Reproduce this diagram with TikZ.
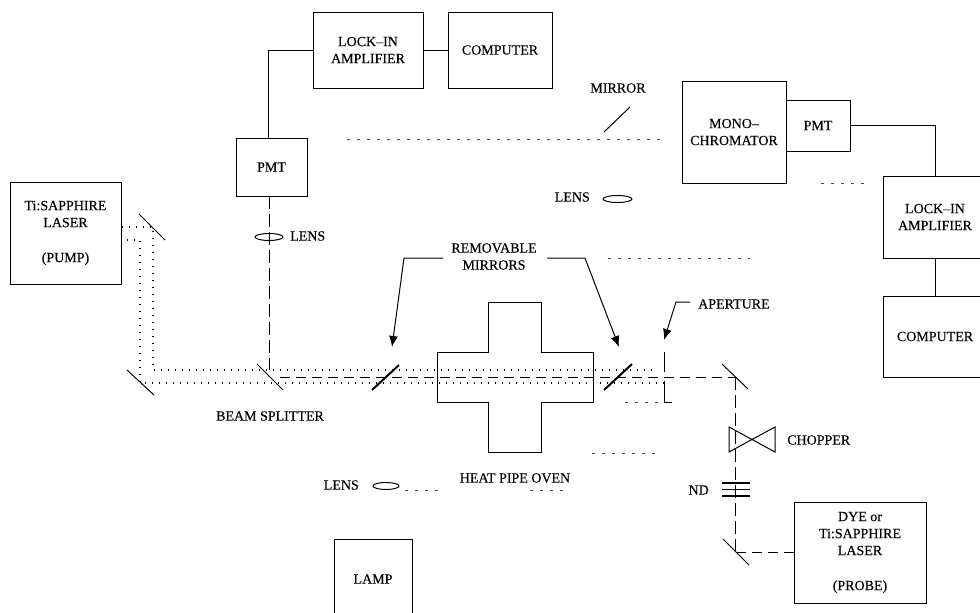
\documentclass[tikz,border=0pt]{standalone}
\usepackage{fontspec}
\setmainfont[FakeBold=0.25]{Liberation Serif}
\usetikzlibrary{arrows.meta,shapes.geometric}
\tikzset{
  box/.style={draw,line width=1pt,inner sep=0pt,font=\fontsize{14}{17}\selectfont,align=center},
  lab/.style={inner sep=0pt,font=\fontsize{14}{17}\selectfont,align=center},
  wire/.style={line width=1pt},
  dashbeam/.style={line width=1pt,dash pattern=on 10pt off 6pt},
  vdashbeam/.style={line width=1pt,dash pattern=on 13pt off 5pt},
  dotbeam/.style={line width=1.4pt,dash pattern=on 1.4pt off 5.6pt},
  mirrorline/.style={line width=1pt},
  thickmirror/.style={line width=2pt},
  lensshape/.style={draw,ellipse,line width=1pt,inner sep=0pt},
  callout/.style={line width=1pt,-{Latex[length=11pt,width=9pt]}},
  speck/.style={line width=0.6pt,dash pattern=on 3pt off 7pt,black!70}
}
\begin{document}
\begin{tikzpicture}[x=1pt,y=-1pt]
\useasboundingbox (0,0) rectangle (980,613);
% boxes
\node[box,minimum width=110pt,minimum height=76pt] (lock1) at (368,50) {LOCK--IN\\AMPLIFIER};
\node[box,minimum width=104pt,minimum height=76pt] (comp1) at (500,50) {COMPUTER};
\node[box,minimum width=71pt,minimum height=58pt] (pmt1) at (271.5,167) {PMT};
\node[box,minimum width=111pt,minimum height=102pt] (pump) at (65.5,233) {Ti:SAPPHIRE\\LASER\\[18pt](PUMP)};
\node[box,minimum width=104pt,minimum height=102pt] (mono) at (734,132) {MONO--\\CHROMATOR};
\node[box,minimum width=64pt,minimum height=51pt] (pmt2) at (818,125.5) {PMT};
\node[box,minimum width=104pt,minimum height=82pt] (lock2) at (935,217) {LOCK--IN\\AMPLIFIER};
\node[box,minimum width=104pt,minimum height=81pt] (comp2) at (935,336.5) {COMPUTER};
\node[box,minimum width=132pt,minimum height=101pt] (probe) at (860,552.5) {DYE or\\Ti:SAPPHIRE\\LASER\\[18pt](PROBE)};
\node[box,minimum width=78pt,minimum height=80pt] (lamp) at (373,579) {LAMP};
% wires
\coordinate (pmtin) at (268,138);
\draw[wire] (lock1.east) -- (comp1.west);
\draw[wire] (lock1.west) -| (pmtin);
\draw[wire] (pmt2.east) -| (lock2.north);
\draw[wire] (lock2.south) -- (comp2.north);
% oven
\draw[line width=1pt] (488,302) -- (541,302) -- (541,352) -- (593,352) -- (593,402) -- (541,402) -- (541,452) -- (488,452) -- (488,402) -- (437,402) -- (437,352) -- (488,352) -- cycle;
\node[lab] (oven) at (515,478) {HEAT PIPE OVEN};
% coordinates
\coordinate (mT) at (152,227);
\coordinate (mR) at (735,377);
\coordinate (mP) at (735,552);
\coordinate (pmtout) at (269,196);
% mirrors
\coordinate (a1) at (139,214); \coordinate (a2) at (165,240);
\draw[mirrorline] (a1) -- (a2);
\coordinate (b1) at (127,370); \coordinate (b2) at (154,395);
\draw[mirrorline] (b1) -- (b2);
\coordinate (c1) at (257,364); \coordinate (c2) at (283,390);
\draw[mirrorline] (c1) -- (c2);
\coordinate (d1) at (722,364); \coordinate (d2) at (748,389);
\draw[mirrorline] (d1) -- (d2);
\coordinate (e1) at (723,539); \coordinate (e2) at (749,565);
\draw[mirrorline] (e1) -- (e2);
\coordinate (f1) at (604,132); \coordinate (f2) at (630,107);
\draw[mirrorline] (f1) -- (f2);
\coordinate (g1) at (372,390); \coordinate (g2) at (399,365);
\draw[thickmirror] (g1) -- (g2);
\coordinate (h1) at (604,390); \coordinate (h2) at (632,364);
\draw[thickmirror] (h1) -- (h2);
% dotted pump beams
\draw[dotbeam] (pump.east |- mT) -- (153,227) -- (153,370) -- (655,370);
\draw[dotbeam] (127,240) -- (140,240) -- (140,383) -- (664,383);
% dashed beams
\draw[vdashbeam] (pmtout) -- (269,370);
\draw[dashbeam] (280,377) -- (mR);
\draw[vdashbeam] (mR) -- (mP);
\draw[dashbeam] (probe.west |- mP) -- (mP);
% lenses
\node[lensshape,minimum width=28pt,minimum height=7pt] (lens1) at (269,237) {};
\node[lab,anchor=west] (lens1t) at (290,236) {LENS};
\node[lensshape,minimum width=29pt,minimum height=7pt] (lens2) at (617.5,199) {};
\node[lab,anchor=east] (lens2t) at (590,197) {LENS};
\node[lensshape,minimum width=26pt,minimum height=7pt] (lens3) at (386,486) {};
\node[lab,anchor=east] (lens3t) at (359,485) {LENS};
% labels
\node[lab] (mirrort) at (618,88) {MIRROR};
\node[lab] (remov) at (494,256.5) {REMOVABLE\\MIRRORS};
\node[lab] (bst) at (270,416) {BEAM SPLITTER};
\node[lab,anchor=west] (apt) at (698,304) {APERTURE};
\node[lab,anchor=west] (chopt) at (787,440) {CHOPPER};
\node[lab,anchor=east] (ndt) at (709,490) {ND};
% callouts
\draw[callout] (443,258) -- (404,258) -- (392,347);
\draw[callout] (547,258) -- (585,258) -- (619,347);
\draw[callout] (690,302) -- (676,302) -- (664,340);
% aperture
\draw[wire] (664,352) -- (664,372);
\draw[wire] (664,381) -- (664,402) -- (672,402);
% chopper
\draw[wire] (729,427) -- (775,452) -- (775,427) -- (729,452) -- cycle;
% ND
\draw[line width=1.6pt] (722,483) -- (750,483);
\draw[line width=1.1pt] (722,489.5) -- (750,489.5);
\draw[line width=1.6pt] (722,496) -- (750,496);
% faint remnants
\draw[speck] (347,139) -- (662,139);
\draw[speck] (821,183) -- (867,183);
\draw[speck] (625,402) -- (660,402);
\draw[speck] (592,453) -- (662,453);
\draw[speck] (405,490) -- (445,490);
\draw[speck] (530,490) -- (565,490);
\draw[speck] (608,258) -- (750,258);
\end{tikzpicture}
\end{document}
